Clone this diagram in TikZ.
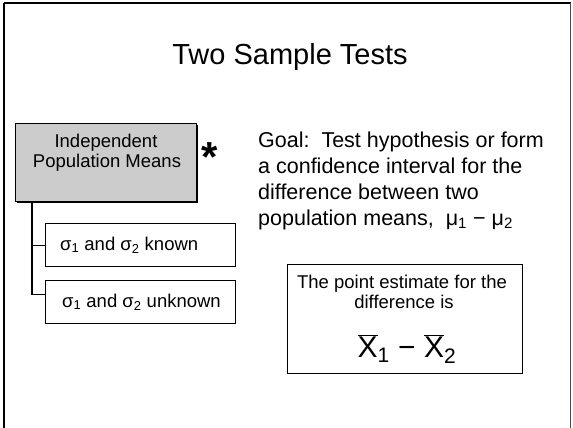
\documentclass[tikz,border=0pt]{standalone}
\usepackage{fontspec}
\setmainfont{Liberation Sans}
\begin{document}
\begin{tikzpicture}[x=1pt,y=-1pt,
  boxline/.style={draw=black, line width=1.3pt},
  subbox/.style={boxline, fill=white, minimum width=190pt, minimum height=43pt, inner sep=0pt, anchor=north west},
  lbl/.style={inner sep=0pt, font=\fontsize{18.5}{20}\selectfont},
  goaltxt/.style={inner sep=0pt, anchor=base west, font=\fontsize{21.5}{24}\selectfont},
  conn/.style={draw=black, line width=1.3pt}]
\useasboundingbox (0,0) rectangle (573,428);
% slide frame
\draw[line width=2pt] (3.5,430) -- (3.5,3);
\draw[line width=1.4pt] (3.5,3) -- (570.5,3);
\draw[line width=0.9pt, black!70] (570.5,3) -- (570.5,430);
% title
\node[inner sep=0pt, anchor=base, font=\fontsize{29}{34}\selectfont] (title) at (290,65) {Two Sample Tests};
% main box with shadow
\node[fill=black, minimum width=181pt, minimum height=78pt, inner sep=0pt, anchor=north west] (mainshadow) at (16.5,124.5) {};
\node[boxline, fill=black!20, minimum width=181pt, minimum height=78pt, inner sep=0pt, anchor=north west] (main) at (15,123) {};
\node[lbl, anchor=base] (ind) at (106,147) {Independent};
\node[lbl, anchor=base] (pop) at (107,167) {Population Means};
\node[inner sep=0pt, anchor=north, font=\fontsize{42}{42}\selectfont\bfseries] (star) at (210,142) {*};
% sub boxes
\node[subbox] (b1) at (45,223) {};
\node[subbox] (b2) at (45,280) {};
\node[lbl, anchor=base west] (t1) at (60,250) {σ\textsubscript{1} and σ\textsubscript{2} known};
\node[lbl, anchor=base west] (t2) at (62,307) {σ\textsubscript{1} and σ\textsubscript{2} unknown};
% connectors
\coordinate (trunk) at ([xshift=17pt]main.south west);
\draw[conn] (trunk) |- ([yshift=8pt]b2.west);
\draw[conn] (trunk |- b1.west) -- (b1.west);
% goal text
\node[goaltxt] (g1) at (258,147) {Goal:\ \ Test hypothesis or form};
\node[goaltxt] (g2) at (258,173) {a confidence interval for the};
\node[goaltxt] (g3) at (258,199) {difference between two};
\node[goaltxt] (g4) at (258,225) {population means,\ \ μ\textsubscript{1} − μ\textsubscript{2}};
% point estimate box
\node[boxline, line width=1.2pt, minimum width=235pt, minimum height=109pt, inner sep=0pt, anchor=north west] (pe) at (287,264) {};
\node[lbl, anchor=base] (pe1) at (402,288) {The point estimate for the};
\node[lbl, anchor=base] (pe2) at (404,308) {difference is};
\node[inner sep=0pt, anchor=base, font=\fontsize{30}{30}\selectfont] (pe3) at (407,357) {\ensuremath{\overline{\mbox{X}}}\textsubscript{1} − \ensuremath{\overline{\mbox{X}}}\textsubscript{2}};
\end{tikzpicture}
\end{document}
